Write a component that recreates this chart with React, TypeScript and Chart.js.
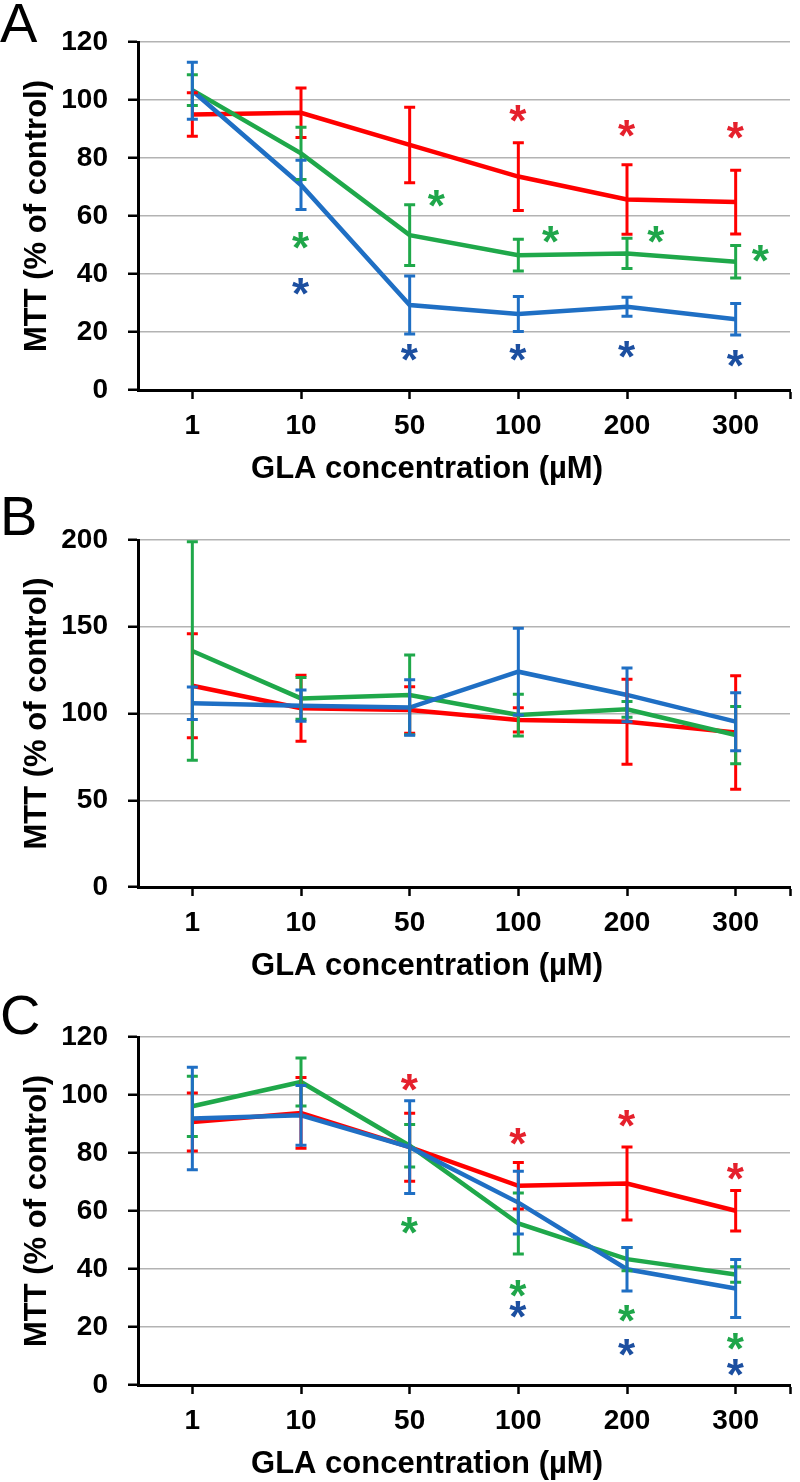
import React, { useEffect, useRef } from 'react';
import { Chart, registerables } from 'chart.js';

Chart.register(...registerables);

// ---------- data ----------
const CATEGORIES = ['1', '10', '50', '100', '200', '300'];
const Y_TITLE = 'MTT (% of control)';
const X_TITLE = 'GLA concentration (µM)';

// Panel A
const A_RED = [95, 95.6, 84.5, 73.6, 65.7, 64.8];
const A_RED_ERR = [7.5, 8.5, 13, 11.7, 12, 11];
const A_GREEN = [103.4, 81.6, 53.4, 46.5, 47.1, 44.2];
const A_GREEN_ERR = [5.3, 9, 10.5, 5.5, 5.2, 5.6];
const A_BLUE = [103.2, 70.7, 29.3, 26.2, 28.7, 24.4];
const A_BLUE_ERR = [9.8, 8.5, 10, 6, 3.3, 5.4];
const A_STAR_RED_X = [3, 4, 5];
const A_STAR_RED_Y = [95.5, 90.3, 89.6];
const A_STAR_GREEN_X = [1, 2.25, 3.3, 4.27, 5.23];
const A_STAR_GREEN_Y = [51.7, 65.9, 53.7, 53.7, 46.9];
const A_STAR_BLUE_X = [1, 2, 3, 4, 5];
const A_STAR_BLUE_Y = [35.6, 12.9, 12.9, 13.8, 11];

// Panel B
const B_RED = [116, 103, 102, 96.3, 95.3, 89];
const B_RED_ERR = [30, 19, 13.4, 7, 24.5, 32.7];
const B_GREEN = [136, 108.7, 110.7, 99.1, 102.4, 87.6];
const B_GREEN_ERR = [63, 12, 23, 12, 4.5, 16.5];
const B_BLUE = [105.9, 104.5, 103.4, 124.1, 110.7, 95.3];
const B_BLUE_ERR = [9.4, 9, 16, 25, 15.5, 16.7];

// Panel C
const C_RED = [90.7, 93.8, 82, 68.7, 69.5, 60.1];
const C_RED_ERR = [10, 12.2, 11.7, 8, 12.6, 7];
const C_GREEN = [96.1, 104.5, 82.5, 55.7, 43.4, 38.1];
const C_GREEN_ERR = [10.4, 8.3, 7.3, 10.5, 4, 2.7];
const C_BLUE = [91.9, 93, 82, 62.9, 39.9, 33.3];
const C_BLUE_ERR = [17.7, 10.3, 16, 10.8, 7.5, 10];
const C_STAR_RED_X = [2, 3, 4, 5];
const C_STAR_RED_Y = [104.2, 85.8, 91.9, 73.5];
const C_STAR_GREEN_X = [2, 3, 4, 5];
const C_STAR_GREEN_Y = [54.9, 33.3, 24.5, 14.9];
const C_STAR_BLUE_X = [3, 4, 5];
const C_STAR_BLUE_Y = [26.2, 12.9, 6.1];

// ---------- styles ----------
const FONT = '"Liberation Sans", Arial, Helvetica, sans-serif';
const RED = '#ff0000';
const GREEN = '#1fa84a';
const BLUE = '#1f6fc4';
const RED_STAR = '#e5202c';
const GREEN_STAR = '#1fa64a';
const BLUE_STAR = '#1c4fa0';

type Series = {
  color: string;
  starColor: string;
  values: number[];
  errors: number[];
  starX: number[];
  starY: number[];
};

type PanelProps = {
  letter: string;
  letterBaseline: number;
  top: number;
  height: number;
  plotTop: number;
  plotBottom: number;
  yMax: number;
  yStep: number;
  series: Series[];
};

function Panel(props: PanelProps) {
  const ref = useRef<HTMLCanvasElement>(null);
  useEffect(() => {
    const { letter, letterBaseline, top, height, plotTop, plotBottom, yMax, yStep, series } = props;
    const padTop = plotTop - top;
    const xAxisH = height - (plotBottom - top);

    const overlay = {
      id: 'overlay',
      afterDatasetsDraw(chart: any) {
        const ctx = chart.ctx as CanvasRenderingContext2D;
        const xs = chart.scales.x;
        const ys = chart.scales.y;
        ctx.save();
        // error bars (reverse so first series ends on top)
        [...series].reverse().forEach((s) => {
          ctx.strokeStyle = s.color;
          ctx.lineWidth = 3;
          ctx.lineCap = 'butt';
          s.values.forEach((v, i) => {
            const x = xs.getPixelForValue(i);
            const y1 = ys.getPixelForValue(v + s.errors[i]);
            const y2 = ys.getPixelForValue(v - s.errors[i]);
            ctx.beginPath();
            ctx.moveTo(x, y1);
            ctx.lineTo(x, y2);
            ctx.moveTo(x - 5.5, y1);
            ctx.lineTo(x + 5.5, y1);
            ctx.moveTo(x - 5.5, y2);
            ctx.lineTo(x + 5.5, y2);
            ctx.stroke();
          });
        });
        // asterisks
        ctx.font = `bold 44px ${FONT}`;
        ctx.textAlign = 'left';
        ctx.textBaseline = 'alphabetic';
        const m = ctx.measureText('*');
        const dx = (m.actualBoundingBoxRight - m.actualBoundingBoxLeft) / 2;
        const dy = (m.actualBoundingBoxDescent - m.actualBoundingBoxAscent) / 2;
        series.forEach((s) => {
          ctx.fillStyle = s.starColor;
          s.starX.forEach((sx, i) => {
            const cx = xs.getPixelForValue(sx);
            const cy = ys.getPixelForValue(s.starY[i]);
            ctx.fillText('*', cx - dx, cy - dy);
          });
        });
        ctx.restore();
      },
      afterDraw(chart: any) {
        const ctx = chart.ctx as CanvasRenderingContext2D;
        const area = chart.chartArea;
        ctx.save();
        ctx.fillStyle = '#000';
        // panel letter
        ctx.font = `56px ${FONT}`;
        ctx.textAlign = 'left';
        ctx.textBaseline = 'alphabetic';
        ctx.fillText(letter, 0, letterBaseline - top);
        // y title
        ctx.font = `bold 31px ${FONT}`;
        ctx.textAlign = 'center';
        ctx.textBaseline = 'middle';
        ctx.save();
        ctx.translate(37, (area.top + area.bottom) / 2);
        ctx.rotate(-Math.PI / 2);
        ctx.fillText(Y_TITLE, 0, 0);
        ctx.restore();
        // x title
        ctx.fillText(X_TITLE, 427, area.bottom + 79);
        ctx.restore();
      },
    };

    const chart = new Chart(ref.current!, {
      type: 'line',
      data: {
        datasets: series.map((s) => ({
          data: s.values.map((v, i) => ({ x: i, y: v })),
          borderColor: s.color,
          backgroundColor: s.color,
          borderWidth: 4.5,
          pointRadius: 0,
          tension: 0,
          fill: false,
        })),
      },
      options: {
        responsive: false,
        animation: false,
        devicePixelRatio: 1,
        layout: { padding: { top: padTop, right: 3, left: 0, bottom: 0 } },
        plugins: { legend: { display: false }, tooltip: { enabled: false } },
        scales: {
          x: {
            type: 'linear',
            min: -0.5,
            max: 5.5,
            afterBuildTicks: (s: any) => {
              s.ticks = [0, 1, 2, 3, 4, 5, 5.5].map((value) => ({ value }));
            },
            afterFit: (s: any) => {
              s.height = xAxisH;
            },
            ticks: {
              autoSkip: false,
              maxRotation: 0,
              padding: 10,
              color: '#000',
              font: { family: FONT, size: 28, weight: 'bold' },
              callback: (v: any) => (Number.isInteger(v) ? CATEGORIES[v] : ''),
            },
            grid: {
              drawOnChartArea: false,
              drawTicks: true,
              tickLength: 9,
              tickColor: '#000',
              tickWidth: 2.5,
            },
            border: { color: '#000', width: 3 },
          },
          y: {
            min: 0,
            max: yMax,
            afterFit: (s: any) => {
              s.width = 138;
            },
            ticks: {
              stepSize: yStep,
              padding: 20,
              color: '#000',
              font: { family: FONT, size: 28, weight: 'bold' },
            },
            grid: {
              color: '#b3b3b3',
              lineWidth: 1.5,
              tickLength: 10,
              tickColor: '#000',
              tickWidth: 2.5,
            },
            border: { color: '#000', width: 3 },
          },
        },
      } as any,
      plugins: [overlay],
    });
    return () => chart.destroy();
  }, []);
  return (
    <canvas
      ref={ref}
      width={800}
      height={props.height}
      style={{ position: 'absolute', left: 0, top: props.top, width: 800, height: props.height }}
    />
  );
}

const SERIES_A: Series[] = [
  { color: BLUE, starColor: BLUE_STAR, values: A_BLUE, errors: A_BLUE_ERR, starX: A_STAR_BLUE_X, starY: A_STAR_BLUE_Y },
  { color: GREEN, starColor: GREEN_STAR, values: A_GREEN, errors: A_GREEN_ERR, starX: A_STAR_GREEN_X, starY: A_STAR_GREEN_Y },
  { color: RED, starColor: RED_STAR, values: A_RED, errors: A_RED_ERR, starX: A_STAR_RED_X, starY: A_STAR_RED_Y },
];
const SERIES_B: Series[] = [
  { color: BLUE, starColor: BLUE_STAR, values: B_BLUE, errors: B_BLUE_ERR, starX: [], starY: [] },
  { color: GREEN, starColor: GREEN_STAR, values: B_GREEN, errors: B_GREEN_ERR, starX: [], starY: [] },
  { color: RED, starColor: RED_STAR, values: B_RED, errors: B_RED_ERR, starX: [], starY: [] },
];
const SERIES_C: Series[] = [
  { color: BLUE, starColor: BLUE_STAR, values: C_BLUE, errors: C_BLUE_ERR, starX: C_STAR_BLUE_X, starY: C_STAR_BLUE_Y },
  { color: GREEN, starColor: GREEN_STAR, values: C_GREEN, errors: C_GREEN_ERR, starX: C_STAR_GREEN_X, starY: C_STAR_GREEN_Y },
  { color: RED, starColor: RED_STAR, values: C_RED, errors: C_RED_ERR, starX: C_STAR_RED_X, starY: C_STAR_RED_Y },
];

export default function App() {
  return (
    <div style={{ position: 'absolute', left: 0, top: 0, width: 800, height: 1482, background: '#fff', overflow: 'hidden' }}>
      <Panel letter="A" letterBaseline={42} top={0} height={490} plotTop={42} plotBottom={390} yMax={120} yStep={20} series={SERIES_A} />
      <Panel letter="B" letterBaseline={535} top={490} height={498} plotTop={540} plotBottom={887} yMax={200} yStep={50} series={SERIES_B} />
      <Panel letter="C" letterBaseline={1034} top={988} height={494} plotTop={1037} plotBottom={1385} yMax={120} yStep={20} series={SERIES_C} />
    </div>
  );
}
